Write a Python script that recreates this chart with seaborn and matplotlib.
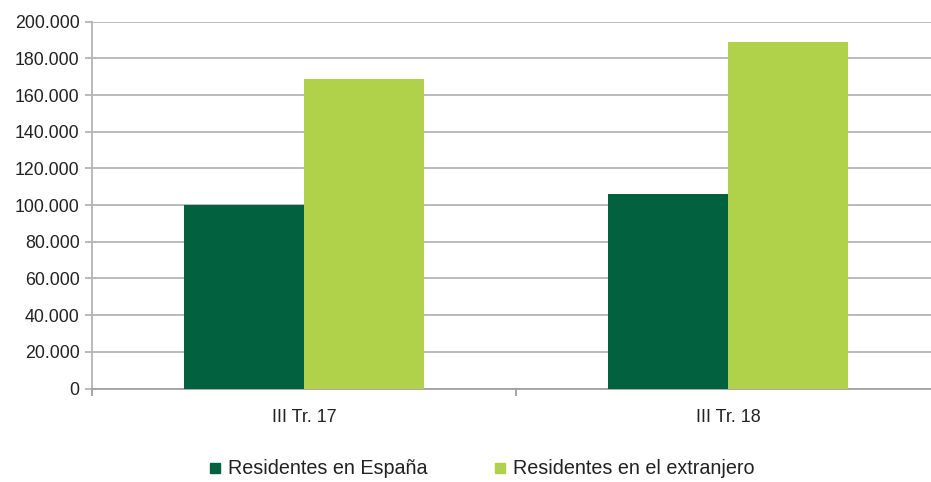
import matplotlib
matplotlib.use("Agg")
import matplotlib.pyplot as plt
import matplotlib.ticker as mticker
from matplotlib.lines import Line2D
import seaborn as sns
import pandas as pd

categories = ["III Tr. 17", "III Tr. 18"]
series_names = ["Residentes en España", "Residentes en el extranjero"]
espana = [100300, 106100]
extranjero = [168500, 188900]
colors = ["#02613F", "#B0D14A"]
yticks = [0, 20000, 40000, 60000, 80000, 100000, 120000, 140000, 160000, 180000, 200000]

df = pd.DataFrame({
    "cat": categories * 2,
    "serie": [series_names[0]] * 2 + [series_names[1]] * 2,
    "val": espana + extranjero,
})

sns.set_style("white")
plt.rcParams["font.family"] = ["Liberation Sans", "DejaVu Sans"]

fig = plt.figure(figsize=(9.31, 4.82), dpi=100)
ax = fig.add_axes([92 / 931, 93.5 / 482, (931 - 92) / 931, (388.5 - 21.7) / 482])

sns.barplot(data=df, x="cat", y="val", hue="serie", hue_order=series_names,
            palette=colors, width=0.566, saturation=1, ax=ax, legend=False,
            linewidth=0, edgecolor="none", zorder=3)

ax.set_ylim(0, 200000)
ax.set_yticks(yticks)
ax.yaxis.set_major_formatter(mticker.FuncFormatter(lambda v, p: f"{int(v):,}".replace(",", ".")))
ax.grid(axis="y", color="#b4b4b4", linewidth=1.3, zorder=0)
ax.set_axisbelow(True)

for s in ["top", "right"]:
    ax.spines[s].set_visible(False)
ax.spines["left"].set_color("#b4b4b4")
ax.spines["left"].set_linewidth(1.3)
ax.spines["bottom"].set_color("#a0a0a0")
ax.spines["bottom"].set_linewidth(1.3)

ax.set_xlabel("")
ax.set_ylabel("")
ax.tick_params(axis="y", length=5, width=1.3, color="#b4b4b4", labelsize=12.8, labelcolor="#222222", pad=4, left=True)
ax.tick_params(axis="x", which="major", length=0, labelsize=13, labelcolor="#222222", pad=15)
ax.set_xticks([-0.5, 0.5, 1.5], minor=True)
ax.tick_params(axis="x", which="minor", length=5, width=1.3, color="#a0a0a0", bottom=True)
ax.set_xlim(-0.5, (931 - 304) / 424)

handles = [Line2D([0], [0], marker="s", linestyle="none", markersize=7.9,
                  markerfacecolor=c, markeredgecolor=c) for c in colors]
fig.legend(handles, series_names, loc="center", bbox_to_anchor=(482 / 931, 1 - 469 / 482),
           ncol=2, frameon=False, fontsize=14.2, handletextpad=0.4, columnspacing=3.4,
           labelcolor="#222222", handlelength=0.55)

fig.savefig("out.png", dpi=100)
